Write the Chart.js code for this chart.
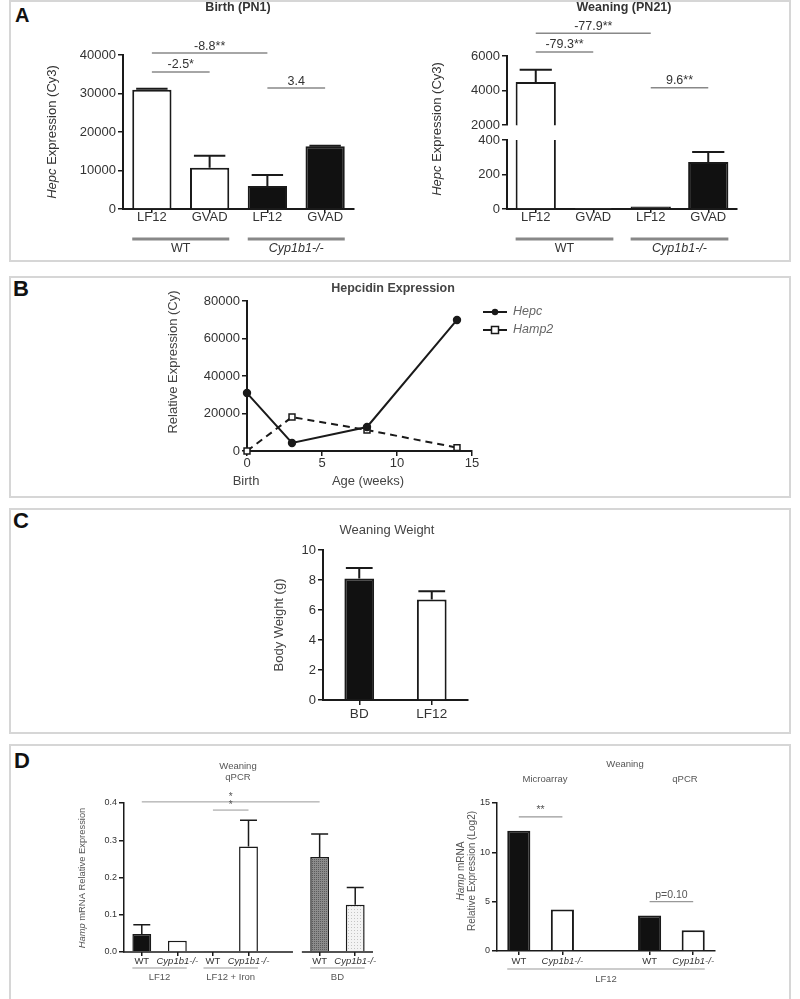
<!DOCTYPE html>
<html>
<head>
<meta charset="utf-8">
<script src="https://cdn.jsdelivr.net/npm/chart.js@4.4.1/dist/chart.umd.min.js"></script>
<style>
  body { margin: 0; background: #fff; }
  #page { position: relative; width: 800px; height: 999px; overflow: hidden; background: #fff; }
  .box { position: absolute; border: 2px solid #d6d6d6; box-sizing: border-box; }
  .tag { position: absolute; font: bold 22px "Liberation Sans", Arial, sans-serif; color: #111; line-height: 1; }
  canvas { position: absolute; }
</style>
</head>
<body>
<div id="page">
  <div class="box" style="left:9px;top:0;width:782px;height:262px"></div>
  <div class="box" style="left:9px;top:276px;width:782px;height:222px"></div>
  <div class="box" style="left:9px;top:508px;width:782px;height:226px"></div>
  <div class="box" style="left:9px;top:744px;width:782px;height:260px"></div>
  <div class="tag" style="left:15px;top:5px;font-size:20px">A</div>
  <div class="tag" style="left:13px;top:278px">B</div>
  <div class="tag" style="left:13px;top:510px">C</div>
  <div class="tag" style="left:14px;top:750px">D</div>
  <canvas id="aBirth"></canvas>
  <canvas id="aWeanLow"></canvas>
  <canvas id="aWeanHigh"></canvas>
  <canvas id="bLine"></canvas>
  <canvas id="cWeight"></canvas>
  <canvas id="dQpcr"></canvas>
  <canvas id="dLog2"></canvas>
</div>
<script>
// ---- A : Hepc expression (Cy3) ----
const aCats = ['LF12', 'GVAD', 'LF12', 'GVAD'];
const aBirth = [31000, 10700, 6000, 16300];
const aBirthErr = [250, 3100, 2800, 150];
const aWean = [4500, 6, 15, 272];
const aWeanErr = [700, 0, 0, 58];

// ---- B : hepcidin vs age ----
const bWeeks = [0, 3, 8, 14];
const bHepc = [30900, 4300, 12800, 69900];
const bHamp2 = [0, 18100, 11200, 1800];

// ---- C : weaning weight ----
const cCats = ['BD', 'LF12'];
const cWeight = [8.1, 6.7];
const cErr = [0.7, 0.55];

// ---- D : Hamp mRNA ----
const dCats = ['WT', 'Cyp1b1-/-', 'WT', 'Cyp1b1-/-', '', 'WT', 'Cyp1b1-/-'];
const dHamp = [0.048, 0.030, 0.003, 0.283, null, 0.255, 0.127];
const dErr = [0.025, 0, 0, 0.071, null, 0.062, 0.046];
const eCats = ['WT', 'Cyp1b1-/-', '', 'WT', 'Cyp1b1-/-'];
const eLog2 = [12.2, 4.2, null, 3.6, 2.1];

const FONT = '"Liberation Sans", Arial, sans-serif';
const ink = '#1a1a1a';
const txt = '#333';
const soft = '#555';

Chart.defaults.font.family = FONT;
Chart.defaults.color = txt;
Chart.defaults.animation = false;
Chart.defaults.plugins.legend.display = false;
Chart.defaults.plugins.tooltip.enabled = false;

// text with _italic_ parts
function rich(ctx, str, x, y, size, o) {
  o = o || {};
  const bits = String(str).split('_');
  const fontOf = i => (i % 2 ? 'italic ' : '') + (o.bold ? 'bold ' : '') + size + 'px ' + FONT;
  ctx.save();
  ctx.translate(x, y);
  if (o.rot) ctx.rotate(-Math.PI / 2);
  ctx.fillStyle = o.color || txt;
  ctx.textBaseline = 'middle';
  ctx.textAlign = 'left';
  let w = 0;
  bits.forEach((b, i) => { ctx.font = fontOf(i); w += ctx.measureText(b).width; });
  let cx = o.align === 'left' ? 0 : -w / 2;
  bits.forEach((b, i) => { ctx.font = fontOf(i); ctx.fillText(b, cx, 0); cx += ctx.measureText(b).width; });
  ctx.restore();
}

function line(ctx, x1, y1, x2, y2, color, width) {
  ctx.save();
  ctx.strokeStyle = color;
  ctx.lineWidth = width;
  ctx.beginPath();
  ctx.moveTo(x1, y1);
  ctx.lineTo(x2, y2);
  ctx.stroke();
  ctx.restore();
}

const extras = {
  id: 'extras',
  afterDatasetsDraw(chart, args, o) {
    const { ctx, chartArea: ca } = chart;
    const ys = chart.scales.y;
    ctx.save();
    ctx.beginPath();
    ctx.rect(ca.left - 20, ca.top - 2, ca.right - ca.left + 40, ca.bottom - ca.top + 2);
    ctx.clip();
    chart.data.datasets.forEach((ds, i) => {
      if (!ds.errors) return;
      chart.getDatasetMeta(i).data.forEach((bar, j) => {
        const e = ds.errors[j];
        if (!e) return;
        const top = ys.getPixelForValue(ds.data[j] + e);
        const half = bar.width * (o.cap || 0.4);
        ctx.strokeStyle = ds.borderColor;
        ctx.lineWidth = ds.borderWidth;
        ctx.beginPath();
        ctx.moveTo(bar.x, bar.y);
        ctx.lineTo(bar.x, top);
        ctx.moveTo(bar.x - half, top);
        ctx.lineTo(bar.x + half, top);
        ctx.stroke();
      });
    });
    ctx.restore();
  },
  afterDraw(chart, args, o) {
    const { ctx, chartArea: ca } = chart;
    const xs = chart.scales.x, ys = chart.scales.y;
    const [ox, oy] = o.origin;
    const col = o.color || txt;
    const bar = chart.getDatasetMeta(0).data.find(b => b && b.width);
    const half = bar ? bar.width / 2 : 0;

    (o.texts || []).forEach(t => rich(ctx, t[0], t[1] - ox, t[2] - oy, t[3], Object.assign({ color: col }, t[4])));

    (o.sig || []).forEach(s => {
      const y = ys.getPixelForValue(s[2]);
      const x1 = xs.getPixelForValue(s[0]), x2 = xs.getPixelForValue(s[1]);
      line(ctx, x1, y, x2, y, o.sigColor || '#888', o.sigWidth || 1.5);
      rich(ctx, s[3], (x1 + x2) / 2, y - (o.sigGap || 7), o.sigSize || 12.5, { color: col });
    });

    (o.groups || []).forEach(g => {
      const x1 = xs.getPixelForValue(g[0]) - half, x2 = xs.getPixelForValue(g[1]) + half;
      const y = o.groupY - oy;
      line(ctx, x1, y, x2, y, o.groupColor || '#888', o.groupWidth || 3);
      rich(ctx, g[2], (x1 + x2) / 2, y + o.groupGap, o.groupSize || 12.5, { color: col });
    });

    if (o.brk !== undefined) {
      const xc = xs.getPixelForValue(o.brk);
      const slot = xs.getPixelForValue(1) - xs.getPixelForValue(0);
      const y = ca.bottom;
      line(ctx, ca.left - 1, y, xc + slot * 0.25, y, ink, 1.5);
      line(ctx, xc + slot * 0.5, y, ca.right, y, ink, 1.5);
    }

    (o.legend || []).forEach(l => {
      const x = l.x - ox, y = l.y - oy;
      line(ctx, x - 12, y, x + 12, y, ink, 2);
      ctx.save();
      ctx.lineWidth = 1.5;
      ctx.strokeStyle = ink;
      if (l.style === 'circle') {
        ctx.fillStyle = ink;
        ctx.beginPath();
        ctx.arc(x, y, 3.2, 0, Math.PI * 2);
        ctx.fill();
      } else {
        ctx.fillStyle = '#fff';
        ctx.fillRect(x - 3.5, y - 3.5, 7, 7);
        ctx.strokeRect(x - 3.5, y - 3.5, 7, 7);
      }
      ctx.restore();
      rich(ctx, l.text, x + 18, y, 12.5, { color: '#666', align: 'left' });
    });
  }
};

function axisY(min, max, step, size, fmt, lw) {
  return {
    min: min, max: max,
    ticks: { stepSize: step, padding: 2, color: txt, font: { size: size }, callback: fmt || (v => String(v)) },
    grid: { drawOnChartArea: false, drawTicks: true, tickLength: 5, color: ink, lineWidth: lw || 1.5 },
    border: { display: true, color: ink, width: lw || 2 }
  };
}

function axisX(size, pad, tick, lw, hideBorder) {
  return {
    offset: true,
    grid: {
      offset: false, drawOnChartArea: false, drawTicks: true, tickLength: tick, color: ink, lineWidth: lw || 1.5,
      tickColor: c => (c.tick && c.tick.label === '') ? 'rgba(0,0,0,0)' : ink
    },
    border: { display: !hideBorder, color: ink, width: lw || 2 },
    ticks: {
      padding: pad, color: txt, autoSkip: false, maxRotation: 0,
      font: c => ({ size: size, style: (c.tick && String(c.tick.label).indexOf('Cyp') === 0) ? 'italic' : 'normal' })
    }
  };
}

// rect = canvas box on page, area = wanted chart area [left, top, right, bottom] on page
function place(id, rect, area, cfg) {
  const cv = document.getElementById(id);
  const [x, y, w, h] = rect;
  cv.width = w; cv.height = h;
  cv.style.left = x + 'px'; cv.style.top = y + 'px';
  cv.style.width = w + 'px'; cv.style.height = h + 'px';
  const o = cfg.options;
  const hidden = o.scales.x.display === false;
  o.responsive = false;
  o.devicePixelRatio = 1;
  o.layout = { padding: { left: 0, top: area[1] - y, right: x + w - area[2], bottom: hidden ? y + h - area[3] : 0 } };
  o.scales.y.afterFit = s => { s.width = area[0] - x; };
  if (!hidden) o.scales.x.afterFit = s => { s.height = y + h - area[3]; };
  o.plugins.extras.origin = [x, y];
  cfg.plugins = [extras];
  return new Chart(cv, cfg);
}

const aFill = ['#fff', '#fff', '#111', '#111'];

// A left: Birth (PN1)
place('aBirth', [12, 2, 376, 258], [123, 55, 354, 209], {
  type: 'bar',
  data: {
    labels: aCats,
    datasets: [{ data: aBirth, errors: aBirthErr, backgroundColor: aFill, borderColor: ink, borderWidth: 2,
      barPercentage: 0.68, categoryPercentage: 1 }]
  },
  options: {
    scales: { x: axisX(13, -3.5, 4), y: axisY(0, 40000, 10000, 13) },
    plugins: {
      extras: {
        texts: [
          ['Birth (PN1)', 238, 8, 12.5, { bold: true }],
          ['_Hepc_ Expression (Cy3)', 52, 132, 13, { rot: true }]
        ],
        sig: [[0, 2, 40500, '-8.8**'], [0, 1, 35600, '-2.5*'], [2, 3, 31400, '3.4']],
        groups: [[0, 1, 'WT'], [2, 3, '_Cyp1b1-/-_']], groupY: 239, groupGap: 10
      }
    }
  }
});

// A right: Weaning (PN21), lower part of the broken axis
place('aWeanLow', [400, 2, 388, 258], [507, 140, 737, 209], {
  type: 'bar',
  data: {
    labels: aCats,
    datasets: [{ data: aWean, errors: aWeanErr, backgroundColor: aFill, borderColor: ink, borderWidth: 2,
      barPercentage: 0.7, categoryPercentage: 1, clip: 0 }]
  },
  options: {
    scales: { x: axisX(13, -3.5, 4), y: axisY(0, 400, 200, 13) },
    plugins: {
      extras: {
        texts: [['_Hepc_ Expression (Cy3)', 437, 129, 13, { rot: true }]],
        groups: [[0, 1, 'WT'], [2, 3, '_Cyp1b1-/-_']], groupY: 239, groupGap: 10
      }
    }
  }
});

// A right: upper part of the broken axis
const hiX = axisX(13, -3.5, 4);
hiX.display = false;
place('aWeanHigh', [400, 2, 388, 133], [507, 56, 737, 126], {
  type: 'bar',
  data: {
    labels: aCats,
    datasets: [{ data: aWean, errors: aWeanErr, backgroundColor: aFill, borderColor: ink, borderWidth: 2,
      barPercentage: 0.7, categoryPercentage: 1, clip: 0 }]
  },
  options: {
    scales: { x: hiX, y: axisY(2000, 6000, 2000, 13) },
    plugins: {
      extras: {
        texts: [['Weaning (PN21)', 624, 8, 12.5, { bold: true }]],
        sig: [[0, 2, 7310, '-77.9**'], [0, 1, 6230, '-79.3**'], [2, 3, 4170, '9.6**']]
      }
    }
  }
});

// B: Hepcidin Expression
place('bLine', [12, 279, 776, 216], [247, 301, 472, 451], {
  type: 'scatter',
  data: {
    datasets: [
      { data: bWeeks.map((w, i) => ({ x: w, y: bHepc[i] })), showLine: true, borderColor: ink, borderWidth: 2,
        pointRadius: 3.2, pointBackgroundColor: ink, pointBorderColor: ink, clip: false },
      { data: bWeeks.map((w, i) => ({ x: w, y: bHamp2[i] })), showLine: true, borderColor: ink, borderWidth: 2,
        borderDash: [7, 5], pointStyle: 'rect', pointRadius: 4.2, pointBackgroundColor: '#fff',
        pointBorderColor: ink, pointBorderWidth: 1.5, clip: false }
    ]
  },
  options: {
    scales: {
      x: {
        type: 'linear', min: 0, max: 15,
        ticks: { stepSize: 5, padding: 0, color: txt, font: { size: 13 } },
        grid: { drawOnChartArea: false, drawTicks: true, tickLength: 5, color: ink, lineWidth: 1.5 },
        border: { display: true, color: ink, width: 2 }
      },
      y: axisY(0, 80000, 20000, 13)
    },
    plugins: {
      extras: {
        color: '#444',
        texts: [
          ['Hepcidin Expression', 393, 289, 12.5, { bold: true }],
          ['Relative Expression (Cy)', 173, 362, 13, { rot: true }],
          ['Birth', 246, 481, 13],
          ['Age (weeks)', 368, 481, 13]
        ],
        legend: [
          { text: '_Hepc_', x: 495, y: 312, style: 'circle' },
          { text: '_Hamp2_', x: 495, y: 330, style: 'rect' }
        ]
      }
    }
  }
});

// C: Weaning Weight
place('cWeight', [230, 511, 300, 220], [323, 550, 468, 700], {
  type: 'bar',
  data: {
    labels: cCats,
    datasets: [{ data: cWeight, errors: cErr, backgroundColor: ['#111', '#fff'], borderColor: ink, borderWidth: 2,
      barPercentage: 0.41, categoryPercentage: 1 }]
  },
  options: {
    scales: { x: axisX(13.5, 1.3, 5), y: axisY(0, 10, 2, 13) },
    plugins: {
      extras: {
        color: '#444',
        cap: 0.45,
        texts: [
          ['Weaning Weight', 387, 530, 13],
          ['Body Weight (g)', 279, 625, 13, { rot: true }]
        ]
      }
    }
  }
});

// D patterns
function pattern(bg, fg, step) {
  const c = document.createElement('canvas');
  c.width = c.height = step;
  const g = c.getContext('2d');
  g.fillStyle = bg; g.fillRect(0, 0, step, step);
  g.fillStyle = fg; g.fillRect(0, 0, 1, 1);
  return g.createPattern(c, 'repeat');
}
const hatch = pattern('#8c8c8c', '#5a5a5a', 2);
const dots = pattern('#f3f3f3', '#c4c4c4', 3);

// D left: Weaning qPCR
place('dQpcr', [12, 747, 386, 250], [124, 803, 373, 952], {
  type: 'bar',
  data: {
    labels: dCats,
    datasets: [{ data: dHamp, errors: dErr, backgroundColor: ['#111', '#fff', '#111', '#fff', '#fff', hatch, dots],
      borderColor: ink, borderWidth: 1.5, barPercentage: 0.53, categoryPercentage: 1 }]
  },
  options: {
    scales: { x: axisX(9.5, -0.7, 4, 1.5, true), y: axisY(0, 0.4, 0.1, 9, v => v.toFixed(1), 1.5) },
    plugins: {
      extras: {
        color: soft,
        cap: 0.45,
        texts: [
          ['Weaning', 238, 766, 9.5],
          ['qPCR', 238, 777, 9.5],
          ['_Hamp_ mRNA Relative Expression', 82, 878, 9.4, { rot: true }]
        ],
        sig: [[0, 5, 0.403, '*'], [2, 3, 0.381, '*']], sigColor: '#999', sigWidth: 1, sigSize: 10, sigGap: 5,
        groups: [[0, 1, 'LF12'], [2, 3, 'LF12 + Iron'], [5, 6, 'BD']], groupY: 968, groupGap: 9,
        groupColor: '#999', groupWidth: 1.2, groupSize: 9.5,
        brk: 4
      }
    }
  }
});

// D right: Microarray / qPCR (Log2)
place('dLog2', [400, 747, 388, 250], [497, 803, 715, 951], {
  type: 'bar',
  data: {
    labels: eCats,
    datasets: [{ data: eLog2, backgroundColor: ['#111', '#fff', '#fff', '#111', '#fff'], borderColor: ink,
      borderWidth: 2, barPercentage: 0.53, categoryPercentage: 1 }]
  },
  options: {
    scales: { x: axisX(9.5, 0.3, 4, 1.5), y: axisY(0, 15, 5, 9, null, 1.5) },
    plugins: {
      extras: {
        color: soft,
        texts: [
          ['Weaning', 625, 764, 9.5],
          ['Microarray', 545, 779, 9.5],
          ['qPCR', 685, 779, 9.5],
          ['_Hamp_ mRNA', 461, 871, 10, { rot: true }],
          ['Relative Expression (Log2)', 472, 871, 10, { rot: true }]
        ],
        sig: [[0, 1, 13.6, '**'], [3, 4, 5.0, 'p=0.10']], sigColor: '#999', sigWidth: 1.2, sigSize: 10.5, sigGap: 7,
        groups: [[0, 4, 'LF12']], groupY: 969, groupGap: 10, groupColor: '#999', groupWidth: 1.2, groupSize: 9.5
      }
    }
  }
});
</script>
</body>
</html>
